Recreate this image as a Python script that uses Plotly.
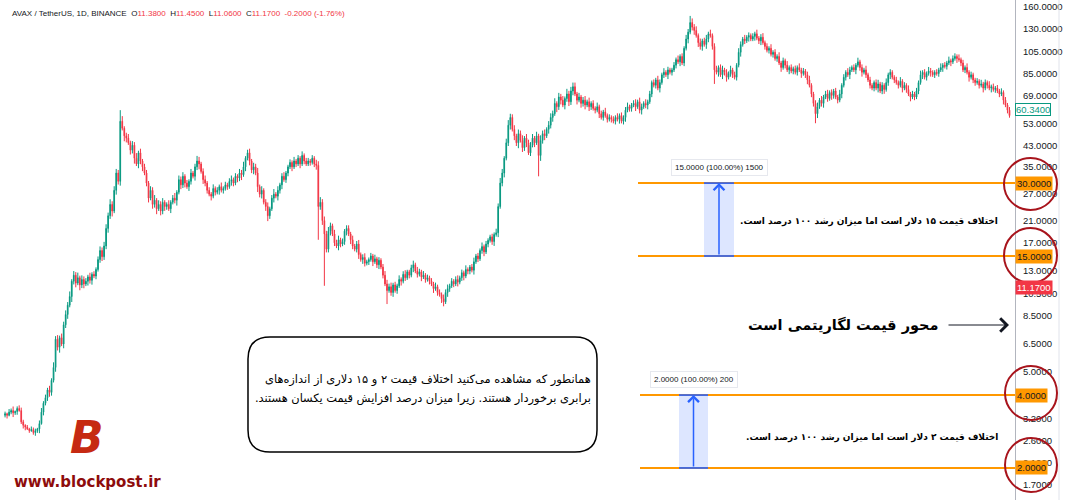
import math
import plotly.graph_objects as go

# ---------------- data ----------------
header_symbol = "AVAX / TetherUS, 1D, BINANCE"
header_ohlc = [("O", "11.3800"), ("H", "11.4500"), ("L", "11.0600"), ("C", "11.1700")]
header_change = "-0.2000 (-1.76%)"

open_first = 3.3
closes = [
    3.35, 3.3, 3.4, 3.45, 3.38, 3.42, 3.52, 3.45, 3.1, 3.0,
    2.95, 2.9, 2.85, 2.88, 2.8, 2.85, 2.9, 3.05, 3.4, 3.7,
    3.9, 4.2, 4.1, 4.6, 5.2, 6.8, 6.3, 6.9, 6.5, 7.8,
    8.6, 9.4, 10.2, 11.8, 12.5, 11.6, 12.2, 11.4, 12.0, 11.5,
    11.8, 12.3, 11.9, 12.6, 12.4, 13.2, 14.5, 15.8, 14.9, 16.5,
    19.5, 22.0, 24.5, 23.0, 28.0, 33.0, 30.5, 54.0, 50.5, 47.0,
    46, 44, 41, 43, 38, 36, 40, 37, 35, 33,
    30, 26, 28, 24.5, 25.5, 23.5, 24.5, 23, 25, 24,
    24.5, 23.5, 25, 26, 25.5, 27.5, 31, 29.5, 32, 30,
    29, 30.5, 33, 32, 35, 37, 36, 33.5, 31, 30,
    28, 27, 26.5, 28.5, 27.5, 28, 29, 28, 28.5, 29.5,
    29, 30.5, 31, 30, 32, 31.5, 33, 32.5, 35, 38,
    40, 37, 34, 35, 33, 29, 27, 28, 25, 24,
    22, 23.5, 26, 27, 26.5, 28, 29.5, 32, 31, 33,
    35, 36.5, 35, 37, 36, 38, 36, 39, 37, 36,
    37, 36.5, 38, 36, 35.5, 24, 25, 21, 18.5, 16,
    19, 20, 18.5, 17, 16.5, 17.5, 16.8, 17.2, 19, 19.5,
    18.5, 17.5, 16.5, 16, 16.8, 15.2, 14.5, 14.8, 14, 14.2,
    14.5, 15, 14.2, 14.6, 13.8, 14.4, 13.5, 12.5, 11.5, 10.8,
    11.2, 10.6, 11.4, 10.8, 11.3, 12.0, 11.8, 12.6, 12.2, 12.9,
    12.5, 13.4, 13.8, 13.0, 12.6, 12.9, 12.3, 12.5, 12.0, 12.2,
    11.8, 11.5, 11.0, 11.2, 10.6, 10.4, 10.0, 9.7, 10.6, 11.0,
    11.3, 11.8, 11.5, 12.0, 11.7, 12.2, 12.8, 12.4, 13.2, 13.0,
    13.5, 13.1, 14.2, 15.0, 14.6, 15.8, 16.4, 15.6, 16.8, 17.4,
    18.0, 17.2, 18.4, 18.7, 24, 30, 33, 38, 44, 52,
    56, 50, 47, 44, 48, 45, 42, 46, 44, 40,
    43, 46, 44, 47, 39, 45, 48, 47, 50, 52,
    56, 58, 64, 62, 68, 66, 63, 67, 70, 65,
    72, 75, 70, 66, 68, 64, 66, 63, 65, 62,
    64, 61, 60, 62, 58, 56, 59, 57, 55, 56,
    55, 54, 56, 55, 57, 54, 56, 60, 62, 61,
    63, 64, 62, 65, 60, 62, 64, 63, 65, 70,
    78, 76, 80, 74, 78, 84, 86, 84, 88, 86,
    88, 92, 97, 95, 100, 94, 108, 118, 126, 138,
    132, 128, 122, 114, 110, 116, 112, 118, 124, 122,
    110, 88, 86, 90, 84, 88, 86, 82, 85, 88,
    84, 82, 92, 104, 112, 118, 116, 120, 122, 118,
    121, 124, 119, 116, 120, 114, 110, 106, 108, 102,
    104, 98, 100, 94, 90, 96, 92, 88, 90, 87,
    89, 86, 90, 88, 85, 87, 84, 80, 76, 70,
    64, 58, 62, 66, 64, 68, 70, 67, 71, 69,
    72, 68, 66, 70, 76, 82, 86, 84, 88, 90,
    88, 92, 95, 90, 86, 88, 84, 80, 76, 74,
    78, 74, 77, 72, 76, 73, 78, 84, 86, 82,
    80, 78, 76, 79, 74, 76, 73, 70, 68, 70,
    68, 72, 78, 84, 86, 82, 85, 87, 86, 84,
    86, 85, 88, 90, 92, 91, 94, 96, 95, 98,
    100, 98, 97, 94, 88, 90, 86, 82, 84, 80,
    78, 79, 76, 77, 74, 78, 76, 74, 75, 73,
    74, 72, 70, 71, 66, 63, 60, 57,
]

# wick lengths in percent (one digit per candle)
upper_wick_pct = (
    "2132412312 1213221342 3242534243 4352435243 3242323434 4353443252 3424352423 3243524342 2423524342 3242354234 "
    "2324232423 2342324352 3424352423 4235242342 2324232423 3232445343 4324342323 3242342342 2324232344 3423242342 "
    "2342432423 2324232434 2323423242 2342324232 2324354245 5342435243 3424253424 4352434253 4342423424 2324232423 "
    "2324232342 2342432423 2324324232 2324232432 4342423424 2342342324 2324324232 3242342324 2324232423 2324232342 "
    "2342423423 2324232432 3242324232 2342324232 2324232423 2324232432 2324232423 3242324232 2324232423 23242323"
)
lower_wick_pct = (
    "2312423123 3121232413 2343243524 3425342534 2434232343 3435243425 4243524342 3424352434 3242352434 2432435243 "
    "3242324232 3243243524 2434253424 5324243423 3242324232 2323453423 3423243234 2432342432 3242342324 2342324232 "
    "3242324232 3242324324 3232423423 3242323423 2342423423 4243524342 3242353424 3425342434 3424243424 3232423232 "
    "3232423423 3242342342 3232423242 3232423242 3424342432 3424243423 3232423242 2423423232 3232423242 3232423423 "
    "3242342324 3232423242 2423423232 3242342342 3232423242 3232423242 3232423242 2423232423 3232423242 32324232"
)
high_override = {8: 3.55, 57: 60, 250: 58, 281: 78, 339: 147, 470: 103}
low_override = {155: 17.5, 158: 11.3, 189: 9.5, 217: 9.3, 264: 32, 351: 77, 401: 53}

tick_vals = [160, 130, 105, 85, 69, 53, 43, 35, 27, 21, 17, 13, 10.5, 8.5, 6.5, 5, 3.2, 2.6, 2.1, 1.7]
level_prices = [30, 15, 4, 2]
last_price = 11.17
marker_price = 60.34
measure_labels = ["15.0000 (100.00%) 1500", "2.0000 (100.00%) 200"]

note_15 = "اختلاف قیمت ۱۵ دلار است اما میزان رشد ۱۰۰ درصد است."
note_2 = "اختلاف قیمت ۲ دلار است اما میزان رشد ۱۰۰ درصد است."
axis_note = "محور قیمت لگاریتمی است"
box_line1 = "همانطور که مشاهده می‌کنید اختلاف قیمت ۲ و ۱۵ دلاری از اندازه‌های"
box_line2 = "برابری برخوردار هستند. زیرا میزان درصد افزایش قیمت یکسان هستند."
site = "www.blockpost.ir"

# ---------------- derived OHLC ----------------
n = len(closes)
idx = list(range(n))
opens = [open_first] + closes[:-1]
up = [int(c) for c in upper_wick_pct.replace(" ", "")]
lo = [int(c) for c in lower_wick_pct.replace(" ", "")]
up = (up + [up[-1]] * n)[:n]
lo = (lo + [lo[-1]] * n)[:n]
highs = [max(o, c) * (1 + u / 100) for o, c, u in zip(opens, closes, up)]
lows = [min(o, c) * (1 - l / 100) for o, c, l in zip(opens, closes, lo)]
for k, v in high_override.items():
    highs[k] = max(v, opens[k], closes[k])
for k, v in low_override.items():
    lows[k] = min(v, opens[k], closes[k])

# ---------------- geometry ----------------
W, H = 1066, 500
PLOT_R = 1015
SLOT = 2.021
X_RANGE = [-2.5, PLOT_R / SLOT - 2.5]
Y_RANGE = [math.log10(1.475), math.log10(171)]


def px(x):
    return x / PLOT_R


def py(y):
    return 1 - y / H


def xi(pixel_x):
    return pixel_x / SLOT - 2.5


GREEN = "#089981"
RED = "#f23645"
ORANGE = "#ff9800"
BLUE = "#2962ff"
DARK = "#131722"
CIRCLE = "#a8141c"

fig = go.Figure()
fig.add_trace(go.Candlestick(
    x=idx, open=opens, high=highs, low=lows, close=closes,
    increasing=dict(line=dict(color=GREEN, width=1), fillcolor=GREEN),
    decreasing=dict(line=dict(color=RED, width=1), fillcolor=RED),
    whiskerwidth=0, showlegend=False, hoverinfo="skip",
))

# orange horizontal levels
level_start_px = {30: 638, 15: 638, 4: 640, 2: 640}
for lvl in level_prices:
    fig.add_trace(go.Scatter(x=[xi(level_start_px[lvl]), X_RANGE[1]], y=[lvl, lvl], mode="lines",
                             line=dict(color=ORANGE, width=2), hoverinfo="skip", showlegend=False))

# measurement rectangles
measures = [(704, 734, 15, 30, measure_labels[0]), (679, 708, 2, 4, measure_labels[1])]
for x0p, x1p, lo_p, hi_p, lab in measures:
    a, b = xi(x0p), xi(x1p)
    fig.add_trace(go.Scatter(x=[a, b, b, a, a], y=[lo_p, lo_p, hi_p, hi_p, lo_p], mode="lines",
                             fill="toself", fillcolor="rgba(41,98,255,0.16)", line=dict(width=0),
                             hoverinfo="skip", showlegend=False))
    for yv in (lo_p, hi_p):
        fig.add_trace(go.Scatter(x=[a, b], y=[yv, yv], mode="lines", line=dict(color=BLUE, width=1.6),
                                 hoverinfo="skip", showlegend=False))
    mid = (a + b) / 2
    fig.add_annotation(x=mid, y=math.log10(hi_p), ax=mid, ay=math.log10(lo_p), axref="x", ayref="y",
                       xref="x", yref="y", text="", showarrow=True, arrowhead=4, arrowsize=1.4,
                       arrowwidth=1.5, arrowcolor=BLUE)
    fig.add_annotation(x=mid, y=math.log10(hi_p), xref="x", yref="y", text=lab, showarrow=False,
                       yanchor="bottom", yshift=7, bgcolor="white", bordercolor="#e6e8ee", borderwidth=1,
                       borderpad=3, font=dict(size=8, color=DARK, family="Arial"))

# price axis labels (boxes)
for lvl in level_prices:
    fig.add_annotation(x=1, xref="paper", y=math.log10(lvl), yref="y", xanchor="left", text=f"{lvl:.4f}",
                       showarrow=False, bgcolor=ORANGE, borderpad=1, font=dict(size=9.5, color=DARK, family="Arial"))
fig.add_annotation(x=1, xref="paper", y=math.log10(last_price), yref="y", xanchor="left", text=f"{last_price:.4f}",
                   showarrow=False, bgcolor=RED, borderpad=1, font=dict(size=9.5, color="white", family="Arial"))
fig.add_annotation(x=1, xref="paper", y=math.log10(marker_price), yref="y", xanchor="left", text=f"{marker_price:.4f}",
                   showarrow=False, bgcolor="white", bordercolor=GREEN, borderwidth=1, borderpad=0,
                   font=dict(size=9.5, color=GREEN, family="Arial"))

# red circles
for (x0, y0, x1, y1) in [(1004, 158, 1057, 210), (1004, 228, 1057, 283), (1005, 366, 1057, 420), (1005, 438, 1057, 492)]:
    fig.add_shape(type="circle", xref="paper", yref="paper", x0=px(x0), x1=px(x1), y0=py(y1), y1=py(y0),
                  line=dict(color=CIRCLE, width=2))

# right border line of price scale
fig.add_shape(type="line", xref="paper", yref="paper", x0=px(1059), x1=px(1059), y0=0, y1=1,
              line=dict(color="#e0e3eb", width=1))

# header
hdr = f'<span style="color:{DARK}">{header_symbol}</span>\u00a0\u00a0'
hdr += "\u00a0\u00a0".join(f'<span style="color:{DARK}">{k}</span>{v}' for k, v in header_ohlc)
hdr += "\u00a0\u00a0" + header_change
fig.add_annotation(x=px(10), y=py(13), xref="paper", yref="paper", xanchor="left", yanchor="middle",
                   text=hdr, showarrow=False, font=dict(size=8, color=RED, family="Arial"))

# persian notes
fig.add_annotation(x=px(1000), y=py(222), xref="paper", yref="paper", xanchor="right", yanchor="middle",
                   text="<b>" + note_15 + "\u200f</b>", showarrow=False,
                   font=dict(size=9, color="#000000", family="DejaVu Sans"))
fig.add_annotation(x=px(1000), y=py(437), xref="paper", yref="paper", xanchor="right", yanchor="middle",
                   text="<b>" + note_2 + "\u200f</b>", showarrow=False,
                   font=dict(size=9, color="#000000", family="DejaVu Sans"))
fig.add_annotation(x=px(941), y=py(325), xref="paper", yref="paper", xanchor="right", yanchor="middle",
                   text="<b>" + axis_note + "</b>", showarrow=False,
                   font=dict(size=14.5, color="#000000", family="DejaVu Sans"))
fig.add_annotation(x=px(1009), y=py(325), xref="paper", yref="paper", ax=-62, ay=0, text="", showarrow=True,
                   arrowhead=4, arrowsize=2.6, arrowwidth=1, arrowcolor=DARK)

# rounded box
def rounded_path(x0, y0, x1, y1, r):
    def p(x, y):
        return f"{px(x):.5f},{py(y):.5f}"
    return (f"M{p(x0 + r, y0)} L{p(x1 - r, y0)} Q{p(x1, y0)} {p(x1, y0 + r)} "
            f"L{p(x1, y1 - r)} Q{p(x1, y1)} {p(x1 - r, y1)} L{p(x0 + r, y1)} "
            f"Q{p(x0, y1)} {p(x0, y1 - r)} L{p(x0, y0 + r)} Q{p(x0, y0)} {p(x0 + r, y0)} Z")


fig.add_shape(type="path", xref="paper", yref="paper", path=rounded_path(248, 337, 597, 452, 22),
              line=dict(color="#000000", width=1.5), fillcolor="white")
fig.add_annotation(x=px(593), y=py(379), xref="paper", yref="paper", xanchor="right", yanchor="middle",
                   text=box_line1, showarrow=False, font=dict(size=11.4, color="#000000", family="DejaVu Sans"))
fig.add_annotation(x=px(593), y=py(398), xref="paper", yref="paper", xanchor="right", yanchor="middle",
                   text=box_line2 + "\u200f", showarrow=False, font=dict(size=11.4, color="#000000", family="DejaVu Sans"))

# logo
fig.add_annotation(x=px(87), y=py(437), xref="paper", yref="paper", xanchor="center", yanchor="middle",
                   text="<b><i>B</i></b>", showarrow=False, font=dict(size=44, color="#c62a12", family="DejaVu Sans"))
fig.add_annotation(x=px(12), y=py(482), xref="paper", yref="paper", xanchor="left", yanchor="middle",
                   text="<b>" + site + "</b>", showarrow=False, font=dict(size=15, color="#8e0c0c", family="DejaVu Sans"))

fig.update_layout(
    width=W, height=H, margin=dict(l=0, r=W - PLOT_R, t=0, b=0),
    paper_bgcolor="white", plot_bgcolor="white", showlegend=False, boxgap=0.5,
    xaxis=dict(range=X_RANGE, visible=False, rangeslider=dict(visible=False), fixedrange=True),
    yaxis=dict(type="log", range=Y_RANGE, side="right", tickvals=tick_vals,
               ticktext=[f"{v:.4f}" for v in tick_vals], showgrid=False, zeroline=False,
               showline=True, linecolor="#b2b5be", linewidth=1, ticks="", ticklabelstandoff=5,
               tickfont=dict(size=9.5, color=DARK, family="Arial"), fixedrange=True),
)

fig.write_html("out.html")
